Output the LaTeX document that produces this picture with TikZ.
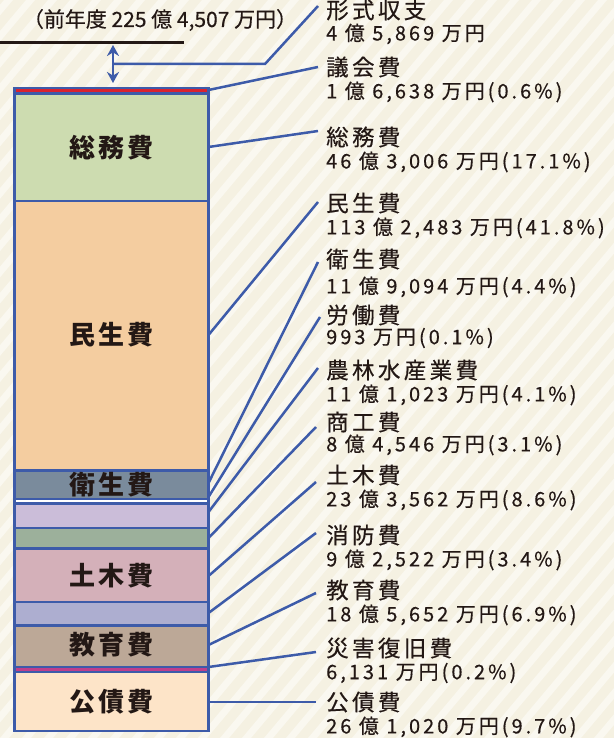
\documentclass[tikz,border=0pt]{standalone}
\usepackage{fontspec}
\setmainfont{Noto Sans CJK JP}[FakeBold=0.4]
\newfontfamily\namefont{Noto Sans CJK JP}[LetterSpace=15,FakeBold=0.4]
\newfontfamily\amtfont{Noto Sans CJK JP}[LetterSpace=15,FakeBold=0.4]
\newfontfamily\barfont{Noto Sans CJK JP}[LetterSpace=10]
\usetikzlibrary{calc,arrows.meta}
\definecolor{bgc}{HTML}{F5F1E2}
\definecolor{stripec}{HTML}{FAF8F0}
\definecolor{barblue}{HTML}{3D5BA9}
\definecolor{ink}{HTML}{231815}
\definecolor{cGikai}{HTML}{D9232F}
\definecolor{cSomu}{HTML}{CDDCB0}
\definecolor{cMinsei}{HTML}{F4CDA0}
\definecolor{cEisei}{HTML}{7A8B9C}
\definecolor{cRodo}{HTML}{FFFFFF}
\definecolor{cNorin}{HTML}{CBBDD9}
\definecolor{cShoko}{HTML}{9CB09B}
\definecolor{cDoboku}{HTML}{D4B0B9}
\definecolor{cShobo}{HTML}{ADAED0}
\definecolor{cKyoiku}{HTML}{BCA897}
\definecolor{cSaigai}{HTML}{BE3F8C}
\definecolor{cKosai}{HTML}{FDE4C8}
\tikzset{
  segbox/.style={draw=barblue, line width=2.8pt, rectangle, inner sep=0pt, outer sep=0pt, minimum width=194pt},
  barlabel/.style={inner sep=0pt, text=ink, font=\barfont\bfseries\fontsize{26}{29}\selectfont},
  namelabel/.style={anchor=west, inner sep=0pt, text=ink, font=\namefont\fontsize{22.5}{25}\selectfont},
  amtlabel/.style={anchor=west, inner sep=0pt, text=ink, font=\amtfont\fontsize{20}{23}\selectfont},
  leader/.style={draw=barblue, line width=2.5pt},
}
\begin{document}
\begin{tikzpicture}[x=1pt,y=-1pt]
\useasboundingbox (0,0) rectangle (614,738);
% background
\begin{scope}
\clip (0,0) rectangle (614,738);
\fill[bgc] (0,0) rectangle (614,738);
\foreach \k in {-30,...,29} {
  \fill[stripec] (\k*22,738) -- ++(9,0) -- ++(620,-738) -- ++(-9,0) -- cycle;
}
\end{scope}

% previous-year text and black line
\node[inner sep=0pt, text=ink, font=\fontsize{21}{23}\selectfont] (prev) at (160,20) {（前年度 225 億 4,507 万円）};
\draw[ink, line width=3pt] (0,42.5) coordinate (bl0) -- (184,42.5) coordinate (bl1);

% bar segments
\node[segbox, fill=cGikai,  minimum height=5.5pt]   (s1)  at (111.5,90.75) {};
\node[segbox, fill=cSomu,   minimum height=107.5pt] (s2)  at (111.5,147.25) {};
\node[segbox, fill=cMinsei, minimum height=269.5pt] (s3)  at (111.5,335.75) {};
\node[segbox, fill=cEisei,  minimum height=28.5pt]  (s4)  at (111.5,484.75) {};
\node[segbox, fill=cRodo,   minimum height=4.5pt]   (s5)  at (111.5,501.25) {};
\node[segbox, fill=cNorin,  minimum height=24.5pt]  (s6)  at (111.5,515.75) {};
\node[segbox, fill=cShoko,  minimum height=20.5pt]  (s7)  at (111.5,538.25) {};
\node[segbox, fill=cDoboku, minimum height=53.5pt]  (s8)  at (111.5,575.25) {};
\node[segbox, fill=cShobo,  minimum height=23.5pt]  (s9)  at (111.5,613.75) {};
\node[segbox, fill=cKyoiku, minimum height=41.5pt]  (s10) at (111.5,646.25) {};
\node[segbox, fill=cSaigai, minimum height=5pt]     (s11) at (111.5,669.5) {};
\node[segbox, fill=cKosai,  minimum height=59pt]    (s12) at (111.5,701.5) {};

% bar labels
\node[barlabel] (t2)  at (111.5,148) {総務費};
\node[barlabel] (t3)  at (111.5,335) {民生費};
\node[barlabel] (t4)  at (111.5,485) {衛生費};
\node[barlabel] (t8)  at (111.5,576) {土木費};
\node[barlabel] (t10) at (111.5,645) {教育費};
\node[barlabel] (t12) at (111.5,702) {公債費};

% double arrow
\coordinate (arrTop) at (113,45);
\coordinate (arrBot) at (113,83);
\draw[barblue, line width=2.5pt, {Stealth[length=11pt,width=12pt]}-{Stealth[length=11pt,width=12pt]}] (arrTop) -- (arrBot);

% right labels
\node[namelabel] (n0)  at (326,10)  {形式収支};
\node[amtlabel]  (m0)  at (326,34)  {4 億 5,869 万円};
\node[namelabel] (n1)  at (326,67)  {議会費};
\node[amtlabel]  (m1)  at (326,92)  {1 億 6,638 万円(0.6\%)};
\node[namelabel] (n2)  at (326,137) {総務費};
\node[amtlabel]  (m2)  at (326,162) {46 億 3,006 万円(17.1\%)};
\node[namelabel] (n3)  at (326,203) {民生費};
\node[amtlabel]  (m3)  at (326,228) {113 億 2,483 万円(41.8\%)};
\node[namelabel] (n4)  at (326,259) {衛生費};
\node[amtlabel]  (m4)  at (326,287) {11 億 9,094 万円(4.4\%)};
\node[namelabel] (n5)  at (326,315) {労働費};
\node[amtlabel]  (m5)  at (326,338) {993 万円(0.1\%)};
\node[namelabel] (n6)  at (326,370) {農林水産業費};
\node[amtlabel]  (m6)  at (326,395) {11 億 1,023 万円(4.1\%)};
\node[namelabel] (n7)  at (326,422) {商工費};
\node[amtlabel]  (m7)  at (326,445) {8 億 4,546 万円(3.1\%)};
\node[namelabel] (n8)  at (326,475) {土木費};
\node[amtlabel]  (m8)  at (326,500) {23 億 3,562 万円(8.6\%)};
\node[namelabel] (n9)  at (326,535) {消防費};
\node[amtlabel]  (m9)  at (326,560) {9 億 2,522 万円(3.4\%)};
\node[namelabel] (n10) at (326,590) {教育費};
\node[amtlabel]  (m10) at (326,615) {18 億 5,652 万円(6.9\%)};
\node[namelabel] (n11) at (326,648) {災害復旧費};
\node[amtlabel]  (m11) at (326,673) {6,131 万円(0.2\%)};
\node[namelabel] (n12) at (326,702) {公債費};
\node[amtlabel]  (m12) at (326,727) {26 億 1,020 万円(9.7\%)};

% leaders
\coordinate (bend0) at (265,64);
\draw[leader] ($(arrTop)!0.5!(arrBot)$) -- (bend0) -- ($(n0.west)+(-8,-4)$);
\draw[leader] ($(s1.east)+(0,-0.75)$)  -- ($(n1.west)+(-8,0)$);
\draw[leader] ($(s2.east)+(0,-0.25)$)  -- ($(n2.west)+(-8,-6)$);
\draw[leader] ($(s3.east)+(0,-0.75)$)  -- ($(n3.west)+(-8,-1)$);
\draw[leader] ($(s4.east)+(0,-1.75)$)  -- ($(n4.west)+(-8,3)$);
\draw[leader] ($(s5.east)+(0,-4.25)$)  -- ($(n5.west)+(-6,2)$);
\draw[leader] ($(s6.east)+(0,-3.75)$)  -- ($(n6.west)+(-8,-2)$);
\draw[leader] ($(s7.east)+(0,-0.25)$)  -- ($(n7.west)+(-10,5)$);
\draw[leader] ($(s8.east)+(0,0.75)$)   -- ($(n8.west)+(-10,7)$);
\draw[leader] ($(s9.east)+(0,-0.75)$)  -- ($(n9.west)+(-10,-2)$);
\draw[leader] ($(s10.east)+(0,-1.25)$) -- ($(n10.west)+(-10,3)$);
\draw[leader] ($(s11.east)+(0,-2.5)$)  -- ($(n11.west)+(-10,4)$);
\draw[leader] ($(s12.east)+(0,0.5)$)   -- ($(n12.west)+(-10,0)$);
\end{tikzpicture}
\end{document}
